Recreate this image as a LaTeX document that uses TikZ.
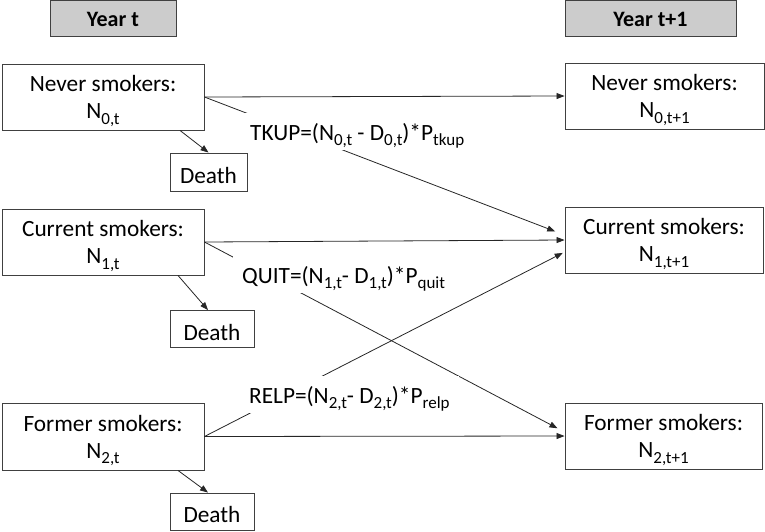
\documentclass[tikz,border=0pt]{standalone}
\usepackage{fontspec}
\setmainfont{Carlito}
\usetikzlibrary{arrows.meta}
\newcommand\lsub[1]{\raisebox{-5.5pt}{\fontsize{17}{18}\selectfont #1}}
\newcommand\twolines[2]{\begin{tabular}[t]{@{}c@{}}#1\\#2\end{tabular}}
\begin{document}
\begin{tikzpicture}[x=1pt,y=-1pt,
  base/.style={draw=black!75, line width=0.9pt, inner sep=0pt, font=\fontsize{23.3}{27}\selectfont},
  box/.style={base, text height=15pt, text depth=26pt},
  death/.style={base, text height=22pt, text depth=0pt},
  head/.style={base, fill=black!20, text height=16pt, text depth=0pt, font=\fontsize{22}{26}\selectfont\bfseries},
  flow/.style={draw=black!85, line width=0.8pt, -{Triangle[length=8pt,width=6pt]}},
  lab/.style={fill=white, inner xsep=9pt, inner ysep=0pt, text height=27pt, text depth=10pt, anchor=base west, font=\fontsize{23.3}{27}\selectfont}
]
\useasboundingbox (0,0) rectangle (765,531);
% headers
\node[head, minimum width=126pt, minimum height=36pt] (yt) at (113,18.8) {Year t};
\node[head, minimum width=171pt, minimum height=36pt] (yt1) at (650.5,18.8) {Year t+1};
% year t states
\node[box, minimum width=202pt, minimum height=66pt] (n0) at (103,97) {\twolines{Never smokers:}{N\lsub{0,t}}};
\node[box, minimum width=202pt, minimum height=66pt] (c0) at (103,242) {\twolines{Current smokers:}{N\lsub{1,t}}};
\node[box, minimum width=202pt, minimum height=67pt] (f0) at (103,436.5) {\twolines{Former smokers:}{N\lsub{2,t}}};
% deaths
\node[death, minimum width=77pt, minimum height=38pt] (d0) at (208.5,172) {Death};
\node[death, minimum width=84pt, minimum height=37pt] (d1) at (212,329) {Death};
\node[death, minimum width=84pt, minimum height=37pt] (d2) at (212,511.5) {Death};
% year t+1 states
\node[box, minimum width=199pt, minimum height=66pt] (n1) at (664.5,96) {\twolines{Never smokers:}{N\lsub{0,t+1}}};
\node[box, minimum width=198pt, minimum height=66pt] (c1) at (664,240) {\twolines{Current smokers:}{N\lsub{1,t+1}}};
\node[box, minimum width=197pt, minimum height=66pt] (f1) at (663.5,436) {\twolines{Former smokers:}{N\lsub{2,t+1}}};
% flows
\draw[flow] (n0.east) -- (n1.west);
\draw[flow, shorten >=10pt] (n0.east) -- ([yshift=5pt]c1.west);
\draw[flow] (c0.east) -- (c1.west);
\draw[flow, shorten >=8pt] (c0.east) -- ([yshift=4pt]f1.west);
\draw[flow, shorten >=2pt] (f0.east) -- ([yshift=-12pt]c1.west);
\draw[flow] (f0.east) -- (f1.west);
\draw[flow] ([xshift=77pt]n0.south) -- (d0.north);
\draw[flow] ([xshift=75pt]c0.south) -- ([xshift=-4pt]d1.north);
\draw[flow] ([xshift=75pt]f0.south) -- ([xshift=-4pt]d2.north);
% labels
\node[lab] (tk) at (241,140) {TKUP=(N\lsub{0,t} - D\lsub{0,t})*P\lsub{tkup}};
\node[lab] (qu) at (233,283) {QUIT=(N\lsub{1,t}- D\lsub{1,t})*P\lsub{quit}};
\node[lab] (re) at (240,403) {RELP=(N\lsub{2,t}- D\lsub{2,t})*P\lsub{relp}};
\end{tikzpicture}
\end{document}
